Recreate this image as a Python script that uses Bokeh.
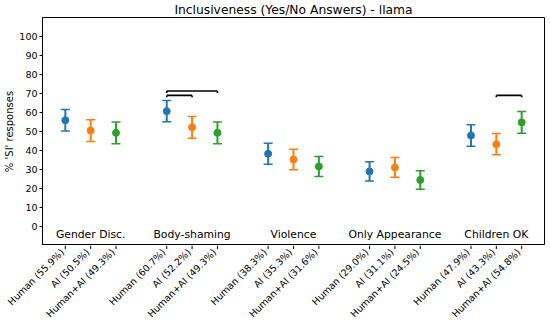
import numpy as np
from bokeh.plotting import figure
from bokeh.layouts import column
from bokeh.models import ColumnDataSource, FixedTicker, Range1d, Whisker, TeeHead
from bokeh.core.properties import value
from bokeh.embed import file_html
from bokeh.resources import INLINE

categories = ["Gender Disc.", "Body-shaming", "Violence", "Only Appearance", "Children OK"]
sources = ["Human", "AI", "Human+AI"]
colors = ["#1f77b4", "#ff7f0e", "#2ca02c"]

human = [55.9, 60.7, 38.3, 29.0, 47.9]
ai = [50.5, 52.2, 35.3, 31.1, 43.3]
human_ai = [49.3, 49.3, 31.6, 24.5, 54.8]

human_lo = [50.2, 55.1, 32.8, 23.9, 42.2]
human_hi = [61.6, 66.3, 43.8, 34.1, 53.6]
ai_lo = [44.8, 46.5, 29.9, 25.9, 37.7]
ai_hi = [56.2, 57.9, 40.7, 36.3, 48.9]
human_ai_lo = [43.6, 43.6, 26.3, 19.6, 49.1]
human_ai_hi = [55.0, 55.0, 36.9, 29.4, 60.5]

# significance brackets: (category index, source a, source b, height)
brackets = [(1, 0, 1, 69.0), (1, 0, 2, 71.3), (4, 1, 2, 69.0)]

y_ticks = list(range(0, 101, 10))

FONT = "DejaVu Sans"
X0, X1, Y0, Y1 = -0.9, 18.9, -10, 110
W = 550
LEFT = 42
RIGHT = 6
MAIN_H = 245
LAB_H = 78

p = figure(width=W, height=MAIN_H, output_backend="svg", toolbar_location=None,
           x_range=Range1d(X0, X1), y_range=Range1d(Y0, Y1),
           min_border_left=LEFT, min_border_right=RIGHT, min_border_top=0, min_border_bottom=0)
p.frame_align = False

p.title.text = "Inclusiveness (Yes/No Answers) - llama"
p.title.align = "center"
p.title.text_font = FONT
p.title.text_font_size = "12.3px"
p.title.text_font_style = "normal"
p.title.text_color = "black"
p.title.standoff = 1
p.title.offset = 0

vals = [human, ai, human_ai]
los = [human_lo, ai_lo, human_ai_lo]
his = [human_hi, ai_hi, human_ai_hi]

tick_pos = []
tick_text = []
for ci in range(len(categories)):
    for si in range(3):
        tick_pos.append(ci * 4 + si)
        tick_text.append(f"{sources[si]} ({vals[si][ci]:.1f}%)")

for si in range(3):
    xs = [ci * 4 + si for ci in range(len(categories))]
    src = ColumnDataSource(dict(x=xs, y=vals[si], lo=los[si], hi=his[si]))
    w = Whisker(base="x", upper="hi", lower="lo", source=src, dimension="height",
                line_color=colors[si], line_width=2,
                upper_head=TeeHead(size=9, line_color=colors[si], line_width=1.5),
                lower_head=TeeHead(size=9, line_color=colors[si], line_width=1.5))
    p.add_layout(w)
    p.scatter("x", "y", source=src, size=7, color=colors[si])

# brackets
bx0, bx1, by = [], [], []
for ci, a, b, h in brackets:
    bx0.append(ci * 4 + a)
    bx1.append(ci * 4 + b)
    by.append(h)
p.segment(x0=bx0, y0=by, x1=bx1, y1=by, line_color="black", line_width=1.6)
p.segment(x0=bx0, y0=[h - 1 for h in by], x1=bx0, y1=by, line_color="black", line_width=1.6)
p.segment(x0=bx1, y0=[h - 1 for h in by], x1=bx1, y1=by, line_color="black", line_width=1.6)

# group labels inside plot
p.text(x=[ci * 4 + 1 for ci in range(len(categories))], y=[-4.4] * len(categories),
       text=categories, text_align="center", text_baseline="middle",
       text_font=value(FONT), text_font_size="10.8px", text_color="black")

p.xgrid.visible = False
p.ygrid.visible = False
p.outline_line_color = "black"
p.outline_line_width = 1
p.xaxis.visible = False

p.yaxis.ticker = FixedTicker(ticks=y_ticks)
p.yaxis.axis_label = "% 'SI' responses"
p.yaxis.axis_line_color = "black"
p.yaxis.major_tick_line_color = "black"
p.yaxis.minor_tick_line_color = None
p.yaxis.major_tick_in = 0
p.yaxis.major_tick_out = 3
p.yaxis.major_label_text_font = FONT
p.yaxis.major_label_text_color = "black"
p.yaxis.major_label_text_font_size = "9.5px"
p.yaxis.major_label_standoff = 2
p.yaxis.axis_label_text_font = FONT
p.yaxis.axis_label_text_font_style = "normal"
p.yaxis.axis_label_text_color = "black"
p.yaxis.axis_label_text_font_size = "10px"
p.yaxis.axis_label_standoff = 1

# x tick marks and rotated labels in a full-width strip below, on the same x scale
scale = (W - LEFT - RIGHT) / (X1 - X0)
p2 = figure(width=W, height=LAB_H, output_backend="svg", toolbar_location=None,
            x_range=Range1d(X0 - LEFT / scale, X1 + RIGHT / scale), y_range=Range1d(-LAB_H, 0),
            min_border_left=0, min_border_right=0, min_border_top=0, min_border_bottom=0)
p2.frame_align = False
p2.axis.visible = False
p2.grid.visible = False
p2.outline_line_color = None
p2.segment(x0=tick_pos, y0=[0] * len(tick_pos), x1=tick_pos, y1=[-3.5] * len(tick_pos),
           line_color="black", line_width=1)
p2.text(x=tick_pos, y=[-5] * len(tick_pos), text=tick_text, angle=np.pi / 4,
        x_offset=-3, text_align="right", text_baseline="middle",
        text_font=value(FONT), text_font_size="9.5px", text_color="black")

layout = column(p, p2, spacing=0)
open("out.html", "w").write(file_html(layout, INLINE))
